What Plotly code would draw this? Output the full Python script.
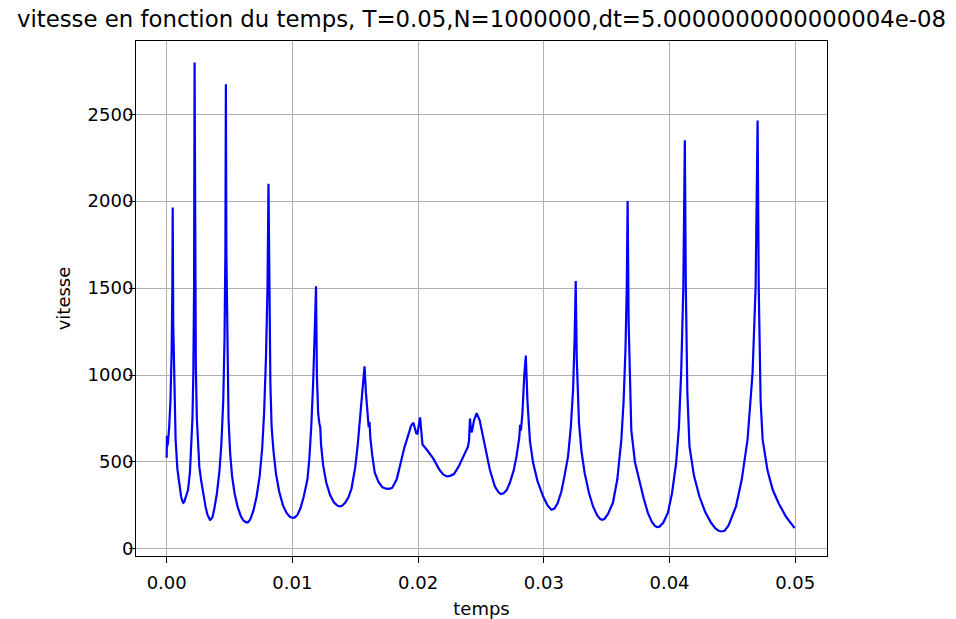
import plotly.graph_objects as go

temps = [
    0.00000, 0.00002, 0.00005, 0.00010, 0.00020, 0.00030, 0.00040, 0.00045, 0.00048,
    0.00052, 0.00058, 0.00065, 0.00071, 0.00085, 0.00098, 0.00115, 0.00125, 0.00132, 0.00140,
    0.00150, 0.00170, 0.00185, 0.00195, 0.00205, 0.00212, 0.00218, 0.00222,
    0.00226, 0.00232, 0.00240, 0.00250, 0.00260, 0.00275, 0.00290, 0.00310, 0.00325, 0.00335, 0.00344, 0.00352,
    0.00365, 0.00380, 0.00400, 0.00420, 0.00435, 0.00450, 0.00460, 0.00467, 0.00471,
    0.00475, 0.00482, 0.00492, 0.00505, 0.00520, 0.00540, 0.00565, 0.00590, 0.00612, 0.00635, 0.00650,
    0.00665, 0.00690, 0.00715, 0.00740, 0.00760, 0.00775, 0.00790, 0.00802, 0.00810,
    0.00816, 0.00825, 0.00835, 0.00850, 0.00870, 0.00895, 0.00925, 0.00955, 0.00980, 0.01003, 0.01020,
    0.01040, 0.01065, 0.01090, 0.01120, 0.01135, 0.01150, 0.01165, 0.01180, 0.01188,
    0.01195, 0.01205, 0.01215, 0.01222, 0.01228, 0.01245, 0.01270, 0.01300, 0.01330, 0.01355, 0.01376, 0.01395,
    0.01420, 0.01445, 0.01470, 0.01500, 0.01520, 0.01545, 0.01565, 0.01574,
    0.01585, 0.01600, 0.01607, 0.01614, 0.01620, 0.01635, 0.01655, 0.01685, 0.01715, 0.01745, 0.01770,
    0.01795, 0.01830, 0.01860, 0.01890, 0.01920, 0.01945, 0.01963,
    0.01985, 0.01995, 0.02016, 0.02035, 0.02070, 0.02120, 0.02170, 0.02200, 0.02228, 0.02255,
    0.02285, 0.02320, 0.02360, 0.02395, 0.02405, 0.02413, 0.02420, 0.02427, 0.02445, 0.02466,
    0.02490, 0.02518, 0.02545, 0.02571, 0.02611, 0.02640, 0.02659, 0.02680,
    0.02705, 0.02730, 0.02760, 0.02783, 0.02805, 0.02812, 0.02818, 0.02830, 0.02845, 0.02857,
    0.02870, 0.02890, 0.02915, 0.02950, 0.02995, 0.03030, 0.03061, 0.03085,
    0.03110, 0.03140, 0.03165, 0.03193, 0.03215, 0.03233, 0.03245, 0.03254,
    0.03262, 0.03280, 0.03300, 0.03325, 0.03360, 0.03392, 0.03425, 0.03448, 0.03463, 0.03482,
    0.03510, 0.03550, 0.03585, 0.03617, 0.03635, 0.03650, 0.03660, 0.03667,
    0.03675, 0.03685, 0.03696, 0.03725, 0.03762, 0.03795, 0.03828, 0.03860, 0.03882, 0.03900, 0.03920,
    0.03950, 0.03987, 0.04020, 0.04053, 0.04075, 0.04093, 0.04110, 0.04122,
    0.04130, 0.04142, 0.04159, 0.04195, 0.04238, 0.04285, 0.04331, 0.04365, 0.04392, 0.04415, 0.04438,
    0.04470, 0.04500, 0.04529, 0.04575, 0.04621, 0.04661, 0.04685, 0.04701,
    0.04710, 0.04725, 0.04741, 0.04780, 0.04821, 0.04870, 0.04926, 0.04995,
]

vitesse = [
    524, 650, 590, 610, 700, 850, 1150, 1500, 1964,
    1300, 1000, 750, 630, 460, 380, 300, 275, 265, 270,
    290, 340, 440, 560, 750, 1000, 1500, 2797,
    1500, 1050, 750, 560, 470, 390, 320, 240, 195, 174, 167, 170,
    185, 235, 320, 450, 600, 850, 1200, 1700, 2672,
    1700, 1100, 750, 550, 420, 320, 240, 188, 162, 152, 155,
    170, 220, 300, 420, 580, 780, 1100, 1500, 2100,
    1400, 950, 700, 560, 430, 330, 250, 205, 185, 178, 181,
    195, 235, 300, 400, 520, 700, 950, 1300, 1511,
    1000, 780, 720, 697, 600, 480, 380, 310, 268, 250, 244, 248,
    265, 295, 345, 470, 600, 800, 980, 1050,
    900, 740, 700, 730, 640, 540, 440, 385, 355, 346, 345,
    352, 400, 490, 580, 650, 710, 725,
    665, 662, 756, 600, 570, 520, 455, 428, 417, 420,
    430, 470, 532, 585, 620, 749, 690, 670, 740, 781,
    740, 647, 540, 455, 359, 325, 315, 320,
    338, 380, 450, 532, 640, 714, 680, 780, 1000, 1112,
    850, 620, 495, 390, 301, 250, 225, 232,
    262, 330, 420, 532, 700, 916, 1200, 1540,
    1100, 725, 560, 437, 320, 244, 192, 172, 167, 172,
    200, 265, 400, 628, 850, 1150, 1500, 2000,
    1300, 900, 685, 500, 380, 290, 207, 155, 133, 125, 128,
    150, 207, 320, 495, 700, 1014, 1500, 2350,
    1500, 900, 589, 420, 301, 210, 150, 118, 104, 100, 104,
    135, 190, 244, 400, 628, 1014, 1500, 2463,
    1500, 850, 628, 450, 340, 260, 186, 119,
]

x_ticks = [0.00, 0.01, 0.02, 0.03, 0.04, 0.05]
x_tick_labels = ["0.00", "0.01", "0.02", "0.03", "0.04", "0.05"]
y_ticks = [0, 500, 1000, 1500, 2000, 2500]
y_tick_labels = ["0", "500", "1000", "1500", "2000", "2500"]

title_text = "vitesse en fonction du temps, T=0.05,N=1000000,dt=5.0000000000000004e-08"

fig = go.Figure()
fig.add_trace(go.Scatter(
    x=temps, y=vitesse, mode="lines",
    line=dict(color="#0000ff", width=2.2),
    showlegend=False, hoverinfo="x+y",
))

axis_common = dict(
    showgrid=True, gridcolor="#b0b0b0", gridwidth=1,
    showline=True, linecolor="black", linewidth=1, mirror=True,
    ticks="outside", ticklen=6, tickcolor="black", tickwidth=1,
    zeroline=False,
    tickfont=dict(family="DejaVu Sans", size=18, color="black"),
)

fig.update_layout(
    width=956, height=619,
    margin=dict(l=136, r=129, t=41, b=63, autoexpand=False),
    paper_bgcolor="white", plot_bgcolor="white",
    font=dict(family="DejaVu Sans", color="black"),
    title=dict(
        text=title_text, x=0.5, xref="paper", xanchor="center",
        y=1 - 19 / 619, yref="container", yanchor="middle",
        font=dict(family="DejaVu Sans", size=22.8, color="black"),
    ),
    xaxis=dict(
        range=[-0.00244, 0.05253],
        tickvals=x_ticks, ticktext=x_tick_labels,
        ticklabelstandoff=4,
        title=dict(text="temps", font=dict(family="DejaVu Sans", size=18, color="black"), standoff=11),
        **axis_common,
    ),
    yaxis=dict(
        range=[-41, 2921],
        tickvals=y_ticks, ticktext=y_tick_labels,
        ticklabelstandoff=-8,
        title=dict(text="vitesse", font=dict(family="DejaVu Sans", size=18, color="black"), standoff=12),
        **axis_common,
    ),
)

# remove the default page margin so the figure fills the window exactly
fig.write_html(
    "out.html",
    config={"displayModeBar": False},
    post_script="document.body.style.margin='0';document.body.style.overflow='hidden';",
)
